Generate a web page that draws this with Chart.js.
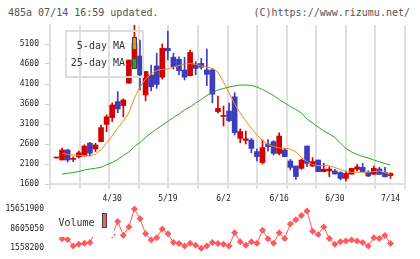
<!DOCTYPE html>
<html>
<head>
<meta charset="utf-8">
<script src="https://cdn.jsdelivr.net/npm/chart.js@4"></script>
<style>
  body { margin: 0; background: #fff; }
  #marco { position: relative; width: 420px; height: 259px; overflow: hidden; font-family: 'DejaVu Sans Mono', monospace; }
  .cabecera { position: absolute; top: 7px; font-size: 10px; line-height: 12px; color: #555; white-space: pre; }
  canvas { position: absolute; left: 0; }
</style>
</head>
<body>
<div id="marco">
  <div class="cabecera" style="left:8px">485a 07/14 16:59 updated.</div>
  <div class="cabecera" style="right:10px">(C)https://www.rizumu.net/</div>
  <canvas id="precio" width="420" height="205" style="top:0"></canvas>
  <canvas id="volumen" width="420" height="69" style="top:190px"></canvas>
</div>
<script>
// etiquetas del eje x (solo algunas fechas) y su posicion en dias
const fechas = ['4/30', '5/19', '6/2', '6/16', '6/30', '7/14'];
const posFechas = [10, 20, 30, 40, 50, 60];

// velas diarias
const apertura = [2250,2200,2450,2215,2280,2300,2620,2475,2660,3090,3260,3660,3560,4120,4560,4800,3825,4325,4550,4270,
  4990,4770,4720,4450,4310,4600,4615,4450,4450,3410,3290,3425,3780,2740,2690,2700,2410,2135,2600,2660,
  2365,2450,2175,2050,1990,2550,2050,2200,1910,1925,1925,1885,1740,1845,1965,2015,1890,1845,1975,1890,1810];
const maximo = [2250,2500,2470,2280,2425,2580,2640,2620,3075,3325,3630,3910,3730,4700,5575,5200,4420,4575,4870,5100,
  5425,4870,4780,4770,4950,4660,4740,4975,4490,3800,3550,3620,3885,2975,2925,2740,2470,2700,2710,2685,
  2880,2490,2215,2050,2225,2550,2260,2200,2120,2030,1965,1910,1925,1995,2090,2115,1930,2050,2015,2015,1880];
const minimo = [2250,2200,2150,2160,2250,2300,2300,2410,2650,2910,3160,3380,3280,4120,4500,3950,3680,3930,3990,4220,
  4700,4470,4330,4200,4300,4330,4470,4060,3630,3370,3050,3160,2825,2630,2600,2380,2175,2100,2420,2325,
  2325,2280,1950,1715,1965,2035,2035,1910,1905,1785,1850,1700,1675,1845,1925,1905,1785,1840,1835,1780,1740];
const cierre = [2250,2450,2200,2215,2380,2550,2370,2575,3010,3280,3575,3475,3700,4700,5120,4325,4410,4030,4090,4990,
  4930,4530,4430,4270,4890,4490,4520,4340,3845,3490,3295,3185,2885,2910,2730,2490,2285,2510,2535,2365,
  2800,2285,2015,1785,2200,2115,2160,1910,1970,1975,1850,1740,1865,1990,2030,1910,1800,1990,1840,1780,1865];

// medias moviles
const media5 = [null,2367,2338,2325,2313,2313,2300,2350,2450,2625,2800,3000,3175,3375,3750,4025,4225,4350,4438,4463,
  4475,4525,4563,4600,4613,4588,4550,4525,4488,4400,4150,3875,3600,3375,3175,3000,2825,2688,2588,2538,
  2500,2493,2475,2400,2263,2163,2088,2058,2063,2058,2013,1963,1905,1893,1893,1893,1893,1913,1925,1888,1838];
const media25 = [null,1850,1868,1888,1912,1950,1975,1993,2018,2080,2138,2213,2313,2400,2538,2638,2763,2875,2975,3075,
  3163,3263,3350,3450,3525,3625,3713,3813,3888,3950,3988,4025,4050,4075,4075,4063,4025,3963,3888,3813,
  3713,3625,3538,3463,3375,3225,3125,3025,2925,2850,2763,2625,2488,2400,2338,2288,2250,2200,2155,2113,2075];

// volumen
const volumen = [null,4980000,4730000,2370000,2970000,3320000,3570000,7550000,8500000,7000000,6320000,11180000,6240000,9200000,15651900,12130000,6740000,4550000,5330000,8500000,
  6770000,3570000,3210000,2370000,3320000,2620000,1558200,2370000,3570000,3210000,2970000,2370000,7090000,3920000,2620000,3920000,3320000,8010000,4980000,3320000,
  7090000,5080000,10260000,11780000,13290000,14950000,7650000,6490000,9200000,5080000,2970000,3920000,4130000,4480000,4130000,3570000,2370000,5330000,5080000,6140000,3210000];

const ticksPrecio = [1600, 2100, 2600, 3100, 3600, 4100, 4600, 5100];
const ticksVolumen = [1558200, 8605050, 15651900];

const ROJO = '#d40000';
const AZUL = '#3c3cbe';
const NARANJA = '#f08c10';
const VERDE = '#22aa22';
const ROSA = '#ff5a5f';
const FUENTE = "'DejaVu Sans Mono', monospace";

const dias = cierre.map((_, i) => i);
const colorVela = cierre.map((c, i) => c >= apertura[i] ? ROJO : AZUL);

// leyenda dentro del area del grafico
const leyendaPrecio = {
    id: 'leyendaPrecio',
    afterDatasetsDraw(chart) {
        const ctx = chart.ctx;
        ctx.save();
        ctx.strokeStyle = '#ddd';
        ctx.lineWidth = 2;
        ctx.strokeRect(66, 31, 77, 46);
        ctx.font = '10px ' + FUENTE;
        ctx.textAlign = 'right';
        const filas = [{ ds: 0, base: 49, top: 37.5, alto: 12 }, { ds: 1, base: 66, top: 58.5, alto: 10 }];
        filas.forEach(f => {
            const ds = chart.data.datasets[f.ds];
            ctx.fillStyle = '#333';
            ctx.fillText(ds.label, 125, f.base);
            ctx.fillStyle = ds.borderColor;
            ctx.fillRect(132.5, f.top, 4, f.alto);
            ctx.strokeStyle = '#444';
            ctx.lineWidth = 1;
            ctx.strokeRect(132.5, f.top, 4, f.alto);
        });
        ctx.restore();
    }
};

const leyendaVolumen = {
    id: 'leyendaVolumen',
    afterDatasetsDraw(chart) {
        const ctx = chart.ctx;
        ctx.save();
        ctx.fillStyle = '#fff';
        ctx.fillRect(55, 17, 59, 30);
        ctx.font = '10px ' + FUENTE;
        ctx.fillStyle = '#333';
        ctx.textAlign = 'left';
        ctx.fillText(chart.data.datasets[0].label, 58.5, 35.5);
        ctx.fillStyle = ROSA;
        ctx.fillRect(102.5, 23.5, 4, 14);
        ctx.strokeStyle = '#444';
        ctx.lineWidth = 1;
        ctx.strokeRect(102.5, 23.5, 4, 14);
        ctx.restore();
    }
};

const ejeX = { type: 'linear', min: -1.17, max: 62.6, offset: false };

new Chart(document.getElementById('precio'), {
    type: 'bar',
    data: {
        datasets: [
            {
                type: 'line',
                label: '5-day MA',
                data: dias.map(i => ({ x: i, y: media5[i] })),
                borderColor: NARANJA,
                borderWidth: 1,
                pointRadius: 0,
                order: 0
            },
            {
                type: 'line',
                label: '25-day MA',
                data: dias.map(i => ({ x: i, y: media25[i] })),
                borderColor: VERDE,
                borderWidth: 1,
                pointRadius: 0,
                order: 0
            },
            {
                label: 'cuerpo',
                data: dias.map(i => ({ x: i, y: [apertura[i], cierre[i]] })),
                backgroundColor: colorVela,
                barThickness: 5,
                minBarLength: 1,
                grouped: false,
                order: 1
            },
            {
                label: 'mecha',
                data: dias.map(i => ({ x: i, y: [minimo[i], maximo[i]] })),
                backgroundColor: colorVela,
                barThickness: 1,
                grouped: false,
                order: 2
            }
        ]
    },
    options: {
        responsive: false,
        animation: false,
        layout: { padding: { top: 25, right: 15, left: 0, bottom: 0 } },
        plugins: { legend: { display: false }, tooltip: { enabled: false } },
        scales: {
            x: {
                ...ejeX,
                weight: 1,
                grid: { display: false, drawTicks: false },
                border: { display: false },
                afterBuildTicks: s => { s.ticks = posFechas.map(v => ({ value: v })); },
                ticks: {
                    callback: v => fechas[posFechas.indexOf(v)],
                    padding: 5, maxRotation: 0, autoSkip: false,
                    color: '#222', font: { family: FUENTE, size: 8 }
                },
                afterFit: s => { s.height = 16; }
            },
            rejilla: {
                type: 'linear', position: 'bottom', min: 0, max: 11, weight: 0,
                ticks: { display: false, count: 12 },
                grid: { color: '#e0e0e0', lineWidth: 2, tickLength: 5 },
                border: { color: '#e0e0e0', width: 2 },
                afterFit: s => { s.height = 5; }
            },
            y: {
                min: 1600, max: 5575,
                afterBuildTicks: s => { s.ticks = ticksPrecio.map(v => ({ value: v })); },
                grid: { drawOnChartArea: false, tickLength: 5, color: '#ccc' },
                border: { color: '#e0e0e0', width: 2 },
                ticks: { padding: 6, color: '#222', font: { family: FUENTE, size: 8 }, callback: v => String(v) },
                afterFit: s => { s.width = 50; }
            }
        }
    },
    plugins: [leyendaPrecio]
});

new Chart(document.getElementById('volumen'), {
    type: 'line',
    data: {
        datasets: [{
            label: 'Volume',
            data: dias.map(i => ({ x: i, y: volumen[i] })),
            borderColor: ROSA,
            backgroundColor: ROSA,
            borderWidth: 1,
            pointStyle: 'rectRot',
            pointRadius: 3.5,
            pointBorderWidth: 0,
            clip: false
        }]
    },
    options: {
        responsive: false,
        animation: false,
        layout: { padding: { top: 19, right: 15, left: 0, bottom: 10 } },
        plugins: { legend: { display: false }, tooltip: { enabled: false } },
        scales: {
            x: { ...ejeX, display: false },
            y: {
                min: ticksVolumen[0], max: ticksVolumen[2],
                afterBuildTicks: s => { s.ticks = ticksVolumen.map(v => ({ value: v })); },
                grid: { display: false, drawTicks: false },
                border: { display: false },
                ticks: { padding: 6, color: '#222', font: { family: FUENTE, size: 8 }, callback: v => String(v) },
                afterFit: s => { s.width = 50; }
            }
        }
    },
    plugins: [leyendaVolumen]
});
</script>
</body>
</html>
